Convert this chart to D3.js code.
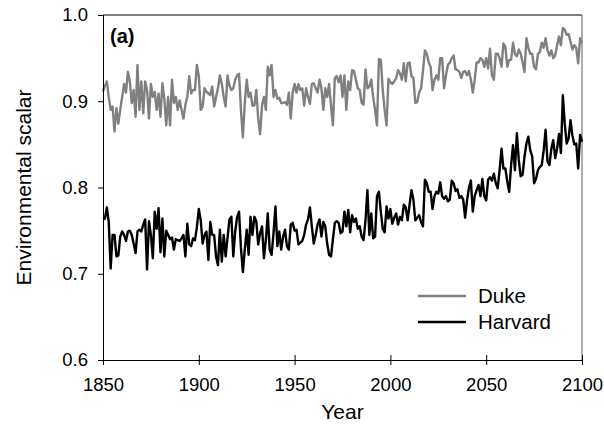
<!DOCTYPE html>
<html>
<head>
<meta charset="utf-8">
<script src="https://cdn.jsdelivr.net/npm/d3@7"></script>
<style>
  html, body { margin: 0; padding: 0; background: #fff; }
  svg { display: block; font-family: "Liberation Sans", Arial, sans-serif; }
</style>
</head>
<body>
<svg id="chart" width="604" height="430"></svg>
<script>
// Annual environmental scalar, 1850-2100
const firstYear = 1850;

const duke = [
  0.911, 0.918, 0.923, 0.905, 0.890, 0.894, 0.865, 0.892, 0.874, 0.890,
  0.905, 0.920, 0.910, 0.934, 0.923, 0.898, 0.913, 0.882, 0.942, 0.890,
  0.923, 0.886, 0.923, 0.913, 0.880, 0.920, 0.905, 0.911, 0.890, 0.909,
  0.882, 0.921, 0.903, 0.872, 0.905, 0.872, 0.925, 0.898, 0.905, 0.890,
  0.901, 0.890, 0.880, 0.896, 0.905, 0.929, 0.909, 0.913, 0.913, 0.942,
  0.929, 0.890, 0.894, 0.915, 0.911, 0.909, 0.907, 0.917, 0.894, 0.905,
  0.915, 0.930, 0.920, 0.905, 0.894, 0.930, 0.918, 0.913, 0.915, 0.925,
  0.930, 0.932, 0.890, 0.858, 0.898, 0.925, 0.905, 0.910, 0.895, 0.895,
  0.913, 0.880, 0.862, 0.895, 0.905, 0.890, 0.940, 0.930, 0.942, 0.905,
  0.913, 0.903, 0.904, 0.898, 0.898, 0.899, 0.896, 0.910, 0.880, 0.910,
  0.920, 0.910, 0.920, 0.913, 0.915, 0.895, 0.915, 0.905, 0.897, 0.920,
  0.921, 0.915, 0.910, 0.925, 0.915, 0.890, 0.915, 0.905, 0.920, 0.895,
  0.872, 0.927, 0.929, 0.922, 0.930, 0.905, 0.930, 0.890, 0.923, 0.913,
  0.936, 0.935, 0.925, 0.915, 0.913, 0.898, 0.896, 0.937, 0.915, 0.917,
  0.925, 0.905, 0.890, 0.872, 0.949, 0.948, 0.913, 0.890, 0.872, 0.926,
  0.922, 0.920, 0.923, 0.927, 0.936, 0.932, 0.925, 0.944, 0.923, 0.944,
  0.945, 0.929, 0.927, 0.898, 0.899, 0.910, 0.915, 0.935, 0.959, 0.955,
  0.945, 0.940, 0.913, 0.925, 0.930, 0.925, 0.950, 0.950, 0.915, 0.930,
  0.942, 0.945, 0.950, 0.953, 0.937, 0.936, 0.934, 0.927, 0.934, 0.935,
  0.930, 0.935, 0.925, 0.910, 0.925, 0.945, 0.945, 0.950, 0.948, 0.940,
  0.950, 0.938, 0.961, 0.930, 0.925, 0.955, 0.955, 0.950, 0.940, 0.967,
  0.963, 0.940, 0.948, 0.948, 0.968, 0.955, 0.952, 0.960, 0.955, 0.945,
  0.934, 0.973, 0.962, 0.955, 0.955, 0.940, 0.937, 0.955, 0.957, 0.968,
  0.962, 0.973, 0.959, 0.953, 0.959, 0.950, 0.953, 0.965, 0.975, 0.965,
  0.985, 0.983, 0.977, 0.978, 0.969, 0.960, 0.965, 0.962, 0.944, 0.973,
  0.967
];

const harvard = [
  0.763, 0.764, 0.777, 0.760, 0.706, 0.745, 0.745, 0.720, 0.721, 0.743,
  0.749, 0.745, 0.738, 0.749, 0.750, 0.745, 0.735, 0.724, 0.749, 0.751,
  0.749, 0.757, 0.763, 0.705, 0.761, 0.745, 0.718, 0.772, 0.752, 0.776,
  0.725, 0.764, 0.720, 0.750, 0.745, 0.740, 0.742, 0.728, 0.740, 0.739,
  0.738, 0.741, 0.745, 0.720, 0.758, 0.734, 0.732, 0.741, 0.739, 0.754,
  0.775, 0.762, 0.735, 0.745, 0.749, 0.716, 0.760, 0.745, 0.745, 0.720,
  0.710, 0.751, 0.714, 0.745, 0.720, 0.742, 0.763, 0.766, 0.720, 0.749,
  0.766, 0.772, 0.730, 0.702, 0.728, 0.751, 0.722, 0.766, 0.745, 0.766,
  0.761, 0.734, 0.747, 0.755, 0.718, 0.739, 0.770, 0.728, 0.722, 0.747,
  0.778, 0.732, 0.749, 0.728, 0.743, 0.751, 0.732, 0.728, 0.757, 0.759,
  0.750, 0.751, 0.734, 0.736, 0.738, 0.745, 0.757, 0.763, 0.777, 0.755,
  0.735, 0.745, 0.757, 0.763, 0.743, 0.760, 0.755, 0.735, 0.722, 0.720,
  0.740, 0.759, 0.761, 0.759, 0.747, 0.749, 0.772, 0.755, 0.774, 0.748,
  0.768, 0.760, 0.764, 0.752, 0.755, 0.743, 0.739, 0.762, 0.797, 0.745,
  0.770, 0.741, 0.743, 0.790, 0.795, 0.772, 0.752, 0.748, 0.778, 0.764,
  0.775, 0.758, 0.765, 0.770, 0.757, 0.766, 0.762, 0.780, 0.777, 0.762,
  0.780, 0.797, 0.786, 0.762, 0.765, 0.768, 0.760, 0.755, 0.809, 0.805,
  0.795, 0.795, 0.775, 0.790, 0.795, 0.793, 0.806, 0.790, 0.787, 0.790,
  0.784, 0.786, 0.808, 0.805, 0.796, 0.798, 0.788, 0.790, 0.786, 0.765,
  0.785, 0.800, 0.808, 0.772, 0.790, 0.797, 0.803, 0.790, 0.810, 0.790,
  0.785, 0.809, 0.812, 0.808, 0.816, 0.805, 0.799, 0.820, 0.845, 0.822,
  0.822, 0.807, 0.795, 0.826, 0.849, 0.820, 0.863, 0.832, 0.813, 0.815,
  0.836, 0.851, 0.859, 0.843, 0.836, 0.805, 0.810, 0.820, 0.824, 0.826,
  0.843, 0.867, 0.830, 0.826, 0.845, 0.855, 0.834, 0.845, 0.862, 0.840,
  0.907, 0.874, 0.851, 0.857, 0.878, 0.860, 0.850, 0.851, 0.822, 0.861,
  0.853
];

const xTicks = [1850, 1900, 1950, 2000, 2050, 2100];
const yTicks = [0.6, 0.7, 0.8, 0.9, 1.0];
const seriesNames = ["Duke", "Harvard"];
const seriesColors = ["#808080", "#000000"];

const svg = d3.select("#chart");
const margin = { left: 103, right: 22, top: 15, bottom: 70 };
const W = 604, H = 430;
const FONT = "'Liberation Sans', Arial, sans-serif";

const x = d3.scaleLinear().domain([1850, 2100]).range([margin.left, W - margin.right]);
const y = d3.scaleLinear().domain([0.6, 1.0]).range([H - margin.bottom, margin.top]);

// frame: top and right sides
svg.append("line")
  .attr("x1", x(1850)).attr("x2", x(2100))
  .attr("y1", y(1.0)).attr("y2", y(1.0))
  .attr("stroke", "#000").attr("stroke-width", 1);
svg.append("line")
  .attr("x1", x(2100)).attr("x2", x(2100))
  .attr("y1", y(1.0)).attr("y2", y(0.6))
  .attr("stroke", "#777").attr("stroke-width", 1.2);

// series
const line = d3.line()
  .x((d, i) => x(firstYear + i))
  .y(d => y(d));

[duke, harvard].forEach((vals, k) => {
  svg.append("path")
    .datum(vals)
    .attr("fill", "none")
    .attr("stroke", seriesColors[k])
    .attr("stroke-width", 2.4)
    .attr("stroke-linejoin", "round")
    .attr("d", line);
});

// y axis
const yAxis = svg.append("g")
  .attr("transform", `translate(${x(1850)},0)`)
  .call(d3.axisLeft(y).tickValues(yTicks).tickSize(5).tickPadding(10).tickFormat(d3.format(".1f")));
yAxis.select(".domain").attr("stroke", "#000");
yAxis.selectAll("text").attr("font-size", 18.5).attr("fill", "#000").attr("font-family", FONT);

// x axis (ticks cross the axis line)
const xAxis = svg.append("g")
  .attr("transform", `translate(0,${y(0.6)})`)
  .call(d3.axisBottom(x).tickValues(xTicks).tickSize(5).tickPadding(13).tickFormat(d3.format("d")));
xAxis.select(".domain").attr("stroke", "#000");
xAxis.selectAll(".tick line").attr("y1", -5).attr("y2", 5);
xAxis.selectAll("text").attr("font-size", 18.5).attr("fill", "#000").attr("font-family", FONT);

// axis titles
svg.append("text")
  .attr("x", (x(1850) + x(2100)) / 2).attr("y", 419)
  .attr("text-anchor", "middle").attr("font-size", 21)
  .text("Year");
svg.append("text")
  .attr("transform", `translate(31,${(y(0.6) + y(1.0)) / 2}) rotate(-90)`)
  .attr("text-anchor", "middle").attr("font-size", 21)
  .text("Environmental scalar");

// panel label
svg.append("text")
  .attr("x", 110).attr("y", 43)
  .attr("font-size", 20).attr("font-weight", "bold")
  .text("(a)");

// legend
const legend = svg.append("g");
seriesNames.forEach((name, k) => {
  const ly = 296 + k * 26;
  legend.append("line")
    .attr("x1", 418).attr("x2", 466).attr("y1", ly).attr("y2", ly)
    .attr("stroke", seriesColors[k]).attr("stroke-width", 2.4);
  legend.append("text")
    .attr("x", 478).attr("y", ly + 7)
    .attr("font-size", 20.5)
    .text(name);
});
</script>
</body>
</html>
